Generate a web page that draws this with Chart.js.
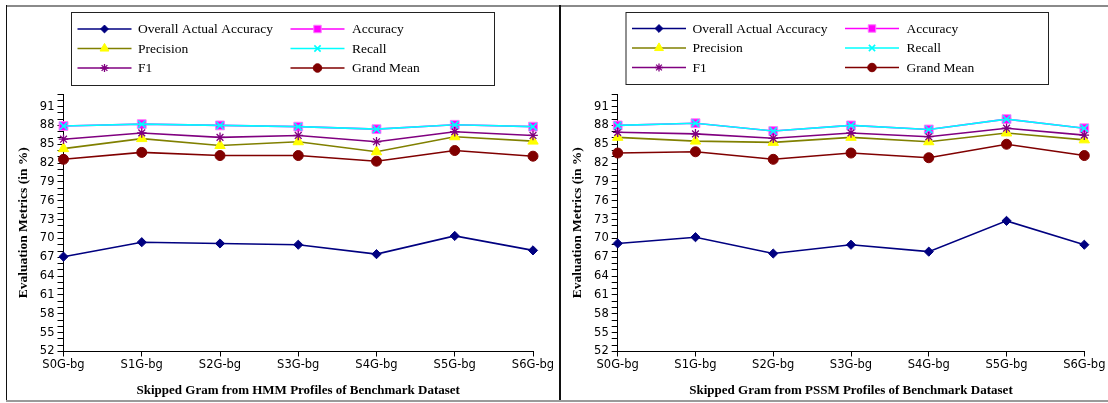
<!DOCTYPE html>
<html>
<head>
<meta charset="utf-8">
<script src="https://cdn.jsdelivr.net/npm/chart.js@4.4.1/dist/chart.umd.min.js"></script>
<style>
html,body{margin:0;padding:0;background:#fff;}
#wrap{position:relative;width:1108px;height:403px;overflow:hidden;background:#fff;}
canvas{position:absolute;top:0;}
.ln{position:absolute;}
</style>
</head>
<body>
<div id="wrap">
  <canvas id="c1" width="559" height="403" style="left:0;width:559px;height:403px"></canvas>
  <canvas id="c2" width="549" height="403" style="left:559px;width:549px;height:403px"></canvas>
  <div class="ln" style="left:6px;top:5px;width:1102px;height:2px;background:#8a8a8a"></div>
  <div class="ln" style="left:6px;top:5px;width:1px;height:397px;background:#111"></div>
  <div class="ln" style="left:559px;top:5px;width:2px;height:397px;background:#111"></div>
  <div class="ln" style="left:6px;top:400px;width:1102px;height:2px;background:#9a9a9a"></div>
</div>
<script>
// ---- data ----
const categories = ['S0G-bg','S1G-bg','S2G-bg','S3G-bg','S4G-bg','S5G-bg','S6G-bg'];
const yTickLabels = [52,55,58,61,64,67,70,73,76,79,82,85,88,91];
const seriesNames = ['Overall Actual Accuracy','Accuracy','Precision','Recall','F1','Grand Mean'];

const hmmOverallActualAccuracy = [67.1, 69.4, 69.2, 69.0, 67.5, 70.4, 68.1];
const hmmAccuracy              = [87.9, 88.2, 88.0, 87.8, 87.4, 88.1, 87.8];
const hmmPrecision             = [84.3, 85.9, 84.8, 85.4, 83.8, 86.2, 85.5];
const hmmRecall                = [87.9, 88.2, 88.0, 87.8, 87.4, 88.1, 87.8];
const hmmF1                    = [85.8, 86.8, 86.1, 86.4, 85.4, 87.0, 86.4];
const hmmGrandMean             = [82.6, 83.7, 83.2, 83.2, 82.3, 84.0, 83.1];

const pssmOverallActualAccuracy = [69.2, 70.2, 67.6, 69.0, 67.9, 72.8, 69.0];
const pssmAccuracy              = [88.0, 88.35, 87.1, 88.0, 87.35, 89.0, 87.55];
const pssmPrecision             = [86.1, 85.5, 85.3, 86.1, 85.4, 86.8, 85.7];
const pssmRecall                = [88.0, 88.35, 87.1, 88.0, 87.35, 89.0, 87.55];
const pssmF1                    = [86.9, 86.65, 85.95, 86.8, 86.2, 87.55, 86.45];
const pssmGrandMean             = [83.6, 83.8, 82.6, 83.6, 82.85, 85.0, 83.2];

// ---- styles ----
const styles = [
  {line:'#000080', fill:'#000080', stroke:'#000080', ps:'rectRot', r:4.6, bw:1, order:0},
  {line:'#ff00ff', fill:'#ff00ff', stroke:'#ff77ff', ps:'rect', r:6.2, bw:1, order:5},
  {line:'#808000', fill:'#ffff00', stroke:'#ffff00', ps:'triangle', r:6, bw:1, order:3},
  {line:'#00ffff', fill:'#00ffff', stroke:'#00ffff', ps:'crossRot', r:5.2, bw:1.6, order:1},
  {line:'#800080', fill:'#800080', stroke:'#800080', ps:'star', r:4.8, bw:1.3, order:2},
  {line:'#800000', fill:'#800000', stroke:'#800000', ps:'circle', r:5, bw:1, order:4}
];

function makeDatasets(arrs){
  return arrs.map((d,i)=>({
    label: seriesNames[i], data: d,
    borderColor: styles[i].line, backgroundColor: styles[i].fill,
    borderWidth: 1.6, tension: 0,
    pointStyle: styles[i].ps, pointRadius: styles[i].r, pointHoverRadius: styles[i].r,
    pointBackgroundColor: styles[i].fill, pointBorderColor: styles[i].stroke,
    pointBorderWidth: styles[i].bw, order: styles[i].order, clip: false
  }));
}

const boxLegend = {
  id: 'boxLegend',
  afterDraw(chart, args, opts){
    const ctx = chart.ctx;
    const {x, y, w, h} = opts.box;
    ctx.save();
    ctx.fillStyle = '#fff';
    ctx.fillRect(x, y, w, h);
    ctx.strokeStyle = '#222';
    ctx.lineWidth = 1;
    ctx.strokeRect(x + 0.5, y + 0.5, w, h);
    const rowH = 19.5;
    chart.data.datasets.forEach((ds, i) => {
      const col = i % 2, row = Math.floor(i / 2);
      const cy = y + h / 2 + (row - 1) * rowH;
      const lx = x + (col ? 219.5 : 6.5);
      ctx.strokeStyle = ds.borderColor;
      ctx.lineWidth = 1.5;
      ctx.beginPath(); ctx.moveTo(lx, cy); ctx.lineTo(lx + 54, cy); ctx.stroke();
      ctx.fillStyle = ds.pointBackgroundColor;
      ctx.strokeStyle = ds.pointBorderColor;
      ctx.lineWidth = ds.pointBorderWidth;
      Chart.helpers.drawPoint(ctx, {pointStyle: ds.pointStyle, radius: ds.pointRadius * 0.85, borderWidth: ds.pointBorderWidth, rotation: 0}, lx + 27, cy);
      ctx.fillStyle = '#000';
      ctx.font = '13.5px "Liberation Serif"';
      ctx.textAlign = 'left';
      ctx.textBaseline = 'middle';
      ctx.fillText(ds.label, x + (col ? 281 : 67), cy + 0.5);
    });
    ctx.restore();
  }
};

function makeChart(id, arrs, xTitle, g){
  return new Chart(document.getElementById(id), {
    type: 'line',
    data: { labels: categories, datasets: makeDatasets(arrs) },
    plugins: [boxLegend],
    options: {
      responsive: false, animation: false,
      layout: { padding: { left: 0, right: g.padRight, top: 94, bottom: 0 } },
      plugins: {
        legend: { display: false }, tooltip: { enabled: false },
        boxLegend: { box: g.box }
      },
      scales: {
        x: {
          type: 'category', offset: false,
          grid: { display: true, drawOnChartArea: false, drawTicks: true, tickLength: 5, color: '#000', lineWidth: 1 },
          border: { display: true, color: '#000', width: 1 },
          ticks: { color: '#000', font: { family: 'DejaVu Sans', size: 11.5 }, padding: 2, maxRotation: 0, autoSkip: false },
          title: { display: true, text: xTitle, color: '#000', font: { family: 'Liberation Serif', size: 13, weight: 'bold' }, padding: { top: 0, bottom: 5 } },
          afterFit(s){ s.height = 51.5; }
        },
        y: {
          min: 52, max: 93,
          grid: { display: true, drawOnChartArea: false, drawTicks: true, tickLength: 6, color: '#000', lineWidth: 1 },
          border: { display: true, color: '#000', width: 1 },
          ticks: { stepSize: 1, autoSkip: false, color: '#000', font: { family: 'DejaVu Sans', size: 11.5 }, padding: 3,
                   callback: v => yTickLabels.includes(v) ? String(v) : '' },
          title: { display: true, text: 'Evaluation Metrics (in %)', color: '#000', font: { family: 'Liberation Serif', size: 13.5, weight: 'bold' }, padding: { top: g.yTitlePad, bottom: 0 } },
          afterFit(s){ s.width = g.yWidth; }
        }
      }
    }
  });
}

makeChart('c1',
  [hmmOverallActualAccuracy, hmmAccuracy, hmmPrecision, hmmRecall, hmmF1, hmmGrandMean],
  'Skipped Gram from HMM Profiles of Benchmark Dataset',
  { padRight: 26, yWidth: 63.5, yTitlePad: 15.2, box: { x: 71, y: 12, w: 423, h: 73 } });

makeChart('c2',
  [pssmOverallActualAccuracy, pssmAccuracy, pssmPrecision, pssmRecall, pssmF1, pssmGrandMean],
  'Skipped Gram from PSSM Profiles of Benchmark Dataset',
  { padRight: 23.7, yWidth: 58.7, yTitlePad: 10.9, box: { x: 66.5, y: 12, w: 422.5, h: 72 } });
</script>
</body>
</html>
